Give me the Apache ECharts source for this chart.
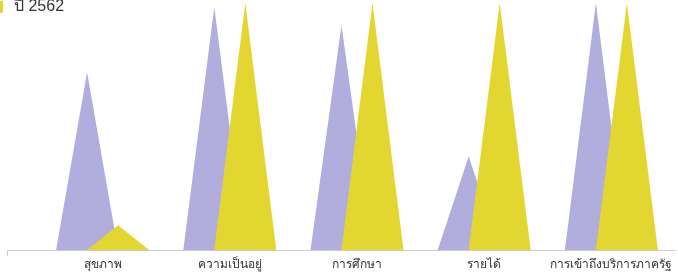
<!DOCTYPE html>
<html>
<head>
<meta charset="utf-8">
<script src="https://cdn.jsdelivr.net/npm/echarts@6/dist/echarts.min.js"></script>
<style>
html,body{margin:0;padding:0;background:#fff;}
#c{width:678px;height:273px;}
</style>
</head>
<body>
<div id="c"></div>
<script>
var categories = ['สุขภาพ', 'ความเป็นอยู่', 'การศึกษา', 'รายได้', 'การเข้าถึงบริการภาครัฐ'];
var seriesNames = ['ปี 2561', 'ปี 2562'];
var values2561 = [72, 98.4, 91, 38, 100];
var values2562 = [10, 100, 100, 100, 100];

var chart = echarts.init(document.getElementById('c'), null, {renderer: 'canvas'});
chart.setOption({
  animation: false,
  color: ['#b1aede', '#e4d631'],
  legend: {
    data: [{name: seriesNames[1], icon: 'rect'}],
    left: -27,
    top: -6,
    itemWidth: 25,
    itemHeight: 12,
    textStyle: {fontSize: 16, color: '#333', padding: [0, 0, 0, 6]}
  },
  grid: {left: 39, right: 3, top: 3, bottom: 23},
  xAxis: {
    type: 'category',
    data: categories,
    axisTick: {show: false},
    axisLine: {lineStyle: {color: '#ccc'}},
    axisLabel: {color: '#333', fontSize: 12, margin: 9, interval: 0}
  },
  yAxis: {
    type: 'value',
    min: 0,
    max: 100,
    show: false,
    splitLine: {show: false}
  },
  graphic: [{
    type: 'polyline',
    shape: {points: [[7.5, 256], [7.5, 250.5], [40, 250.5]]},
    style: {stroke: '#ccc', lineWidth: 1, fill: null},
    silent: true
  }],
  series: [{
    name: seriesNames[0],
    type: 'pictorialBar',
    symbol: 'triangle',
    barWidth: 62,
    barGap: '-50%',
    data: values2561,
    itemStyle: {opacity: 1}
  }, {
    name: seriesNames[1],
    type: 'pictorialBar',
    symbol: 'triangle',
    barWidth: 62,
    barGap: '-50%',
    data: values2562,
    itemStyle: {opacity: 1}
  }]
});
</script>
</body>
</html>
